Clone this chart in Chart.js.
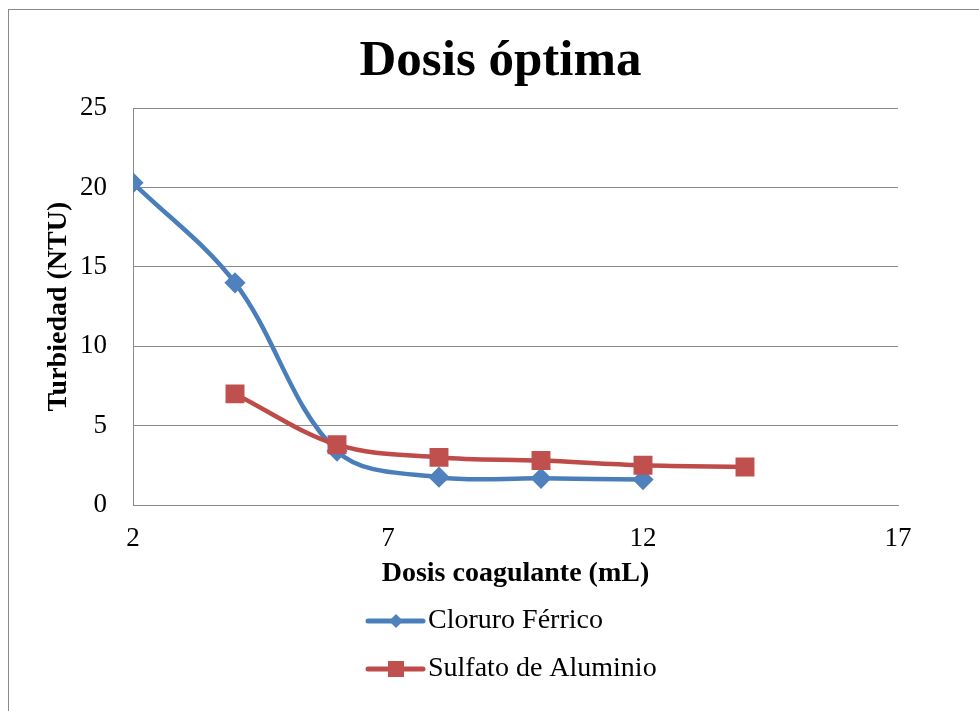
<!DOCTYPE html>
<html>
<head>
<meta charset="utf-8">
<title>Dosis óptima</title>
<script src="https://cdn.jsdelivr.net/npm/chart.js@4.4.0/dist/chart.umd.min.js"></script>
<style>
    html, body { margin: 0; padding: 0; background: #fff; overflow: hidden; }
    .marco { position: absolute; left: 8px; top: 9px; width: 1200px; height: 1000px; border: 1px solid #8a8a8a; }
    #grafico { position: absolute; left: 0; top: 0; }
</style>
</head>
<body>
<div class="marco"></div>
<canvas id="grafico" width="1001" height="711"></canvas>
<script>
// ========== Datos ==========
const dosisCloruro = [2, 4, 6, 8, 10, 12];
const turbCloruro = [20.3, 14.0, 3.4, 1.75, 1.68, 1.6];

const dosisSulfato = [4, 6, 8, 10, 12, 14];
const turbSulfato = [7.0, 3.8, 3.0, 2.8, 2.5, 2.4];

const ticksX = [2, 7, 12, 17];
const ticksY = [0, 5, 10, 15, 20, 25];

const fuente = 'Liberation Serif';
const gris = '#8a8a8a';

const series = [
    { label: 'Cloruro Férrico', x: dosisCloruro, y: turbCloruro, linea: '#4a7ebb', marca: '#4f81bd', forma: 'rectRot', radio: 10.6, orden: 2 },
    { label: 'Sulfato de Aluminio', x: dosisSulfato, y: turbSulfato, linea: '#be4b48', marca: '#c0504d', forma: 'rect', radio: 13.4, orden: 1 }
];

// ========== Leyenda vertical (debajo del eje X) ==========
const leyendaVertical = {
    id: 'leyendaVertical',
    afterDraw(chart) {
        const ctx = chart.ctx;
        const base = chart.scales.x.bottom;
        ctx.save();
        series.forEach((s, i) => {
            const y = base + 30 + i * 48;
            const x0 = 368, x1 = 423, xm = 396;
            ctx.strokeStyle = s.linea;
            ctx.lineWidth = 5;
            ctx.lineCap = 'round';
            ctx.beginPath();
            ctx.moveTo(x0, y);
            ctx.lineTo(x1, y);
            ctx.stroke();
            ctx.fillStyle = s.marca;
            ctx.beginPath();
            if (s.forma === 'rectRot') {
                ctx.moveTo(xm, y - 7);
                ctx.lineTo(xm + 7, y);
                ctx.lineTo(xm, y + 7);
                ctx.lineTo(xm - 7, y);
                ctx.closePath();
            } else {
                ctx.rect(xm - 8, y - 8, 16, 16);
            }
            ctx.fill();
            ctx.fillStyle = '#000';
            ctx.font = '28px "' + fuente + '"';
            ctx.textBaseline = 'middle';
            ctx.textAlign = 'left';
            ctx.fillText(s.label, 428, y);
        });
        ctx.restore();
    }
};

const ctx = document.getElementById('grafico').getContext('2d');

new Chart(ctx, {
    type: 'line',
    data: {
        datasets: series.map(s => ({
            label: s.label,
            data: s.x.map((v, i) => ({ x: v, y: s.y[i] })),
            borderColor: s.linea,
            backgroundColor: s.marca,
            borderWidth: 4.5,
            pointStyle: s.forma,
            pointRadius: s.radio,
            pointBorderWidth: 0,
            pointBackgroundColor: s.marca,
            tension: 0.35,
            fill: false,
            order: s.orden
        }))
    },
    options: {
        responsive: false,
        animation: false,
        layout: { padding: { left: 0, right: 0, top: 0, bottom: 120 } },
        plugins: {
            legend: { display: false },
            tooltip: { enabled: false },
            title: {
                display: true,
                text: 'Dosis óptima',
                color: '#000',
                font: { family: fuente, size: 51, weight: 'bold', lineHeight: 1.2 },
                padding: { top: 31, bottom: 16 }
            }
        },
        scales: {
            x: {
                type: 'linear',
                min: 2,
                max: 17,
                afterBuildTicks: s => { s.ticks = ticksX.map(v => ({ value: v })); },
                afterFit: s => { s.height = 86; },
                grid: { display: false, drawTicks: false },
                border: { display: true, color: gris, width: 1 },
                ticks: { color: '#000', padding: 18, font: { family: fuente, size: 27 } },
                title: {
                    display: true,
                    text: 'Dosis coagulante (mL)',
                    color: '#000',
                    font: { family: fuente, size: 28, weight: 'bold', lineHeight: 1.2 },
                    padding: { top: 0, bottom: 0 }
                }
            },
            y: {
                type: 'linear',
                position: 'left',
                min: 0,
                max: 25,
                afterBuildTicks: s => { s.ticks = ticksY.map(v => ({ value: v })); },
                afterFit: s => { s.width = 133; },
                grid: { display: true, color: gris, lineWidth: 1, drawTicks: false },
                border: { display: true, color: gris, width: 1 },
                ticks: { color: '#000', padding: 26, font: { family: fuente, size: 27 } },
                title: {
                    display: true,
                    text: 'Turbiedad (NTU)',
                    color: '#000',
                    font: { family: fuente, size: 28, weight: 'bold', lineHeight: 1.2 },
                    padding: { top: 42, bottom: 0 }
                }
            },
            // eje vacío a la derecha para centrar el título como en el original
            yDer: {
                type: 'linear',
                position: 'right',
                display: true,
                afterFit: s => { s.width = 103; },
                grid: { display: false, drawTicks: false },
                border: { display: false },
                ticks: { display: false }
            }
        }
    },
    plugins: [leyendaVertical]
});
</script>
</body>
</html>
